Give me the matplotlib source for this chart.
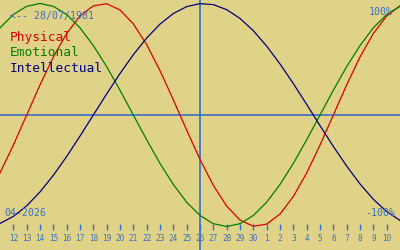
import matplotlib
matplotlib.use("Agg")
from matplotlib import pyplot as plt
import numpy as np

# days shown: 11 April 2026 .. 11 May 2026 (index 31 = 1 May)
days = np.arange(11, 42)
tick_days = np.arange(12, 41)
tick_labels = [str(d) for d in range(12, 31)] + [str(d) for d in range(1, 11)]
center_day = 26

# biorhythm values read per day (-1 .. 1)
physical = [-0.520, -0.270, 0.000, 0.270, 0.520, 0.731, 0.888, 0.979, 0.998, 0.942,
            0.817, 0.631, 0.398, 0.136, -0.136, -0.398, -0.631, -0.817, -0.942, -0.998,
            -0.979, -0.888, -0.731, -0.520, -0.270, 0.000, 0.270, 0.520, 0.731, 0.888,
            0.979]
emotional = [0.782, 0.901, 0.975, 1.000, 0.975, 0.901, 0.782, 0.623, 0.434, 0.222,
             0.000, -0.222, -0.434, -0.623, -0.782, -0.901, -0.975, -1.000, -0.975, -0.901,
             -0.782, -0.623, -0.434, -0.222, 0.000, 0.222, 0.434, 0.623, 0.782, 0.901,
             0.975]
intellectual = [-0.972, -0.910, -0.815, -0.690, -0.541, -0.372, -0.189, 0.000, 0.189, 0.372,
                0.541, 0.690, 0.815, 0.910, 0.972, 0.999, 0.990, 0.945, 0.866, 0.756,
                0.618, 0.458, 0.282, 0.095, -0.095, -0.282, -0.458, -0.618, -0.756, -0.866,
                -0.945]

series = [("Physical", physical, "#dd0000"),
          ("Emotional", emotional, "#007f00"),
          ("Intellectual", intellectual, "#00007f")]

bg = "#e0d286"
blue = "#3a70c0"
mono = "DejaVu Sans Mono"

fig = plt.figure(figsize=(4, 2.5), dpi=100, facecolor=bg)
ax = fig.add_axes([0, 0, 1, 1])
ax.set_facecolor(bg)

# axis cross lines
ax.axhline(0, color=blue, lw=1.2)
ax.axvline(center_day, color=blue, lw=1.2)

for name, vals, col in series:
    ax.plot(days, vals, color=col, lw=0.9)

ax.set_xlim(11, 41)
ax.set_ylim(-1.2108, 1.0314)

# ticks sit just under the -100% line
for s in ["top", "left", "right"]:
    ax.spines[s].set_visible(False)
ax.spines["bottom"].set_position(("data", -1.009))
ax.spines["bottom"].set_visible(False)
ax.set_yticks([])
ax.set_xticks(tick_days)
ax.set_xticklabels(tick_labels, fontfamily=mono, fontsize=5.6)
ax.tick_params(axis="x", direction="inout", length=5, width=1, color=blue,
               labelcolor=blue, pad=2)

# texts (pixel positions measured from the top-left corner)
def label(x, y, s, col, size, ha="left"):
    ax.text(x, 250 - y, s, transform=None, color=col, fontfamily=mono,
            fontsize=size, va="center", ha=ha)

label(10, 16.5, "<-- 28/07/1981", blue, 7.1)
label(393, 12, "100%", blue, 7.1, ha="right")
label(4, 212.7, "04-2026", blue, 7.1)
label(395, 212.7, "-100%", blue, 7.1, ha="right")
for i, (name, vals, col) in enumerate(series):
    label(10, 38 + 15 * i, name, col, 9.3)

fig.savefig("out.png", dpi=100, facecolor=bg)
